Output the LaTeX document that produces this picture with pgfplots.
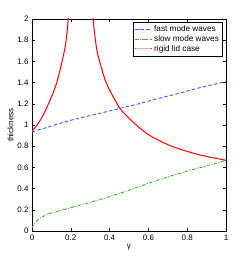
\documentclass[border=0pt]{standalone}
\usepackage{pgfplots}
\pgfplotsset{compat=1.18}
\usepackage{fontspec}
\setmainfont{Liberation Sans}
\definecolor{mblue}{rgb}{0.2,0.35,1}
\definecolor{mgreen}{rgb}{0.25,0.68,0.2}
\begin{document}
\begin{tikzpicture}
\begin{axis}[
  scale only axis, width=194pt, height=212pt,
  xmin=0, xmax=1, ymin=0, ymax=2,
  xtick={0,0.2,...,1}, ytick={0,0.2,...,2},
  xticklabels={0,0.2,0.4,0.6,0.8,1},
  yticklabels={0,0.2,0.4,0.6,0.8,1,1.2,1.4,1.6,1.8,2},
  tick label style={font=\fontsize{8}{9}\selectfont},
  label style={font=\fontsize{8}{9}\selectfont},
  xlabel={γ}, ylabel={thickness},
  xlabel style={yshift=3pt}, ylabel style={yshift=-3pt},
  major tick length=3pt, tick style={black, thin},
  axis line style={black, thin},
  legend style={at={(0.98,0.985)}, anchor=north east, draw=black, thin,
    font=\fontsize{8.2}{9}\selectfont, inner sep=1pt, row sep=-1.5pt,
    legend cell align=left},
  clip=true,
]
\addplot[mblue, dash pattern=on 3.5pt off 2.2pt, line width=0.9pt, smooth] coordinates {
(0,0.935) (0.1,0.99) (0.2,1.045) (0.35,1.11) (0.453,1.157) (0.55,1.2) (0.65,1.25) (0.75,1.295) (0.85,1.345) (1,1.41)};
\addlegendentry{fast mode waves}
\addplot[mgreen, dash pattern=on 3.5pt off 1.5pt on 1pt off 1.5pt, line width=0.9pt, smooth] coordinates {
(0,0.03) (0.01,0.065) (0.03,0.105) (0.06,0.14) (0.1,0.17) (0.2,0.22) (0.3,0.27) (0.4,0.325) (0.5,0.385) (0.6,0.45) (0.7,0.51) (0.8,0.565) (0.9,0.615) (1,0.665)};
\addlegendentry{slow mode waves}
\addplot[red, line width=1pt, smooth] coordinates {
(0,0.94) (0.03,1.01) (0.057,1.09) (0.09,1.22) (0.11,1.31) (0.129,1.41) (0.15,1.56) (0.169,1.72) (0.178,1.83) (0.186,1.98) (0.192,2.15) (0.197,2.35)};
\addlegendentry{rigid lid case}
\addplot[red, line width=1pt, smooth, forget plot] coordinates {
(0.305,2.3) (0.315,2.0) (0.333,1.72) (0.35,1.59) (0.376,1.43) (0.40,1.33) (0.453,1.157) (0.5,1.065) (0.55,0.98) (0.608,0.90) (0.7,0.815) (0.763,0.772) (0.867,0.717) (1.0,0.667)};
\end{axis}
\path (current axis.south west)++(-32pt,-29pt);
\path (current axis.north east)++(23pt,19pt);
\end{tikzpicture}
\end{document}
